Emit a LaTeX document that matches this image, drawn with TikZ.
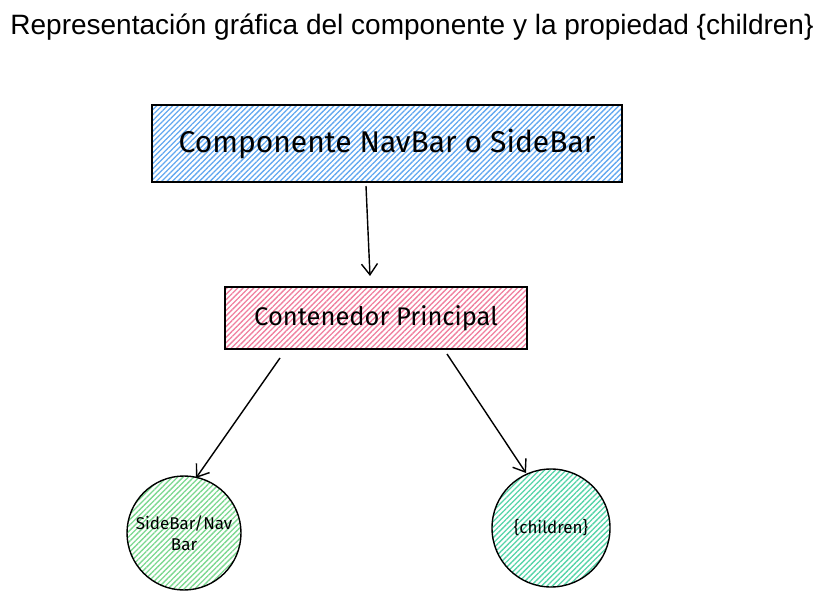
\documentclass[tikz,border=0pt]{standalone}
\usepackage{fontspec}
\setmainfont{Liberation Sans}
\newfontfamily\handfont{Fira Sans}
\usetikzlibrary{arrows.meta,patterns.meta,shapes.geometric}
\definecolor{hblue}{HTML}{62A8F0}
\definecolor{hpink}{HTML}{F0809F}
\definecolor{hgreen}{HTML}{7CD890}
\definecolor{hteal}{HTML}{55D4A8}
\tikzset{
  hatch/.style={pattern={Lines[angle=45,distance=3.8pt,line width=1.3pt]},pattern color=#1},
  boxnode/.style={draw=black,line width=1.4pt,rectangle,inner sep=0pt,font=\handfont},
  circnode/.style={draw=black,line width=1.4pt,circle,inner sep=0pt,font=\handfont\fontsize{17}{21}\selectfont,align=center},
  conn/.style={draw=black,line width=1.4pt,-{Straight Barb[length=11pt,width=16pt,line width=1.4pt]}},
}
\begin{document}
\begin{tikzpicture}[x=1pt,y=-1pt]
\useasboundingbox (0,0) rectangle (824,601);
\node[font=\fontsize{28}{32}\selectfont] (title) at (412,27) {Representación gráfica del componente y la propiedad \{children\}};
\node[boxnode,hatch=hblue,minimum width=470pt,minimum height=77pt,font=\handfont\fontsize{30}{34}\selectfont] (comp) at (387,143.5) {Componente NavBar o SideBar};
\node[boxnode,hatch=hpink,minimum width=302pt,minimum height=62pt,font=\handfont\fontsize{25.5}{30}\selectfont] (cont) at (376,318) {Contenedor Principal};
\node[circnode,hatch=hgreen,minimum size=114pt] (side) at (184,533) {SideBar/Nav\\Bar};
\node[circnode,hatch=hteal,minimum size=118pt] (child) at (551,528) {\{children\}};
\coordinate (a1s) at (366,186);
\coordinate (a1e) at (370,276);
\draw[conn] (a1s) -- (a1e);
\coordinate (a2s) at (280,358);
\coordinate (a2e) at (196,478);
\draw[conn] (a2s) -- (a2e);
\coordinate (a3s) at (447,354);
\coordinate (a3e) at (526,473);
\draw[conn] (a3s) -- (a3e);
\end{tikzpicture}
\end{document}
